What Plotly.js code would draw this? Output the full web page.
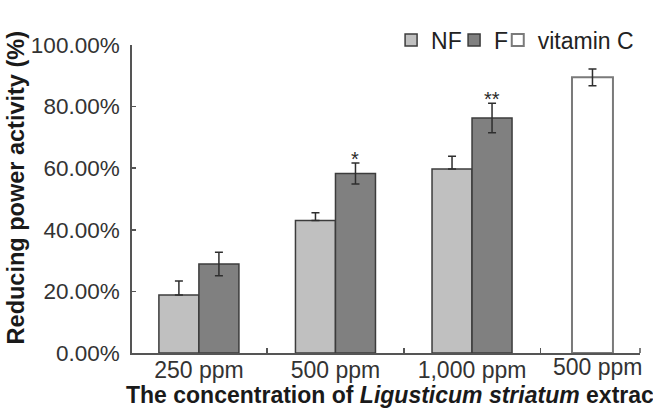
<!DOCTYPE html>
<html>
<head>
<meta charset="utf-8">
<script src="https://cdn.plot.ly/plotly-3.0.1.min.js"></script>
<style>
html,body{margin:0;padding:0;background:#fff;}
#chart{width:653px;height:409px;}
</style>
</head>
<body>
<div id="chart"></div>
<script>
// ---- data ----
var categoryKeys = ['250 ppm', '500 ppm', '1,000 ppm', '500 ppm vitamin C'];
var tickLabels   = ['250 ppm', '500 ppm', '1,000 ppm', ''];
var vitLabel     = '500 ppm';
var extractKeys  = ['250 ppm', '500 ppm', '1,000 ppm'];
var nfValues  = [0.188, 0.430, 0.597];
var nfErrors  = [0.046, 0.025, 0.042];
var fValues   = [0.289, 0.583, 0.763];
var fErrors   = [0.038, 0.034, 0.048];
var fStars    = ['', '*', '**'];
var vitKeys   = ['500 ppm vitamin C'];
var vitValues = [0.895];
var vitErrors = [0.027];
var seriesNames = ['NF', 'F', 'vitamin C'];
var yTickVals = [0, 0.2, 0.4, 0.6, 0.8, 1.0];

var FONT = '"Liberation Sans", Arial, Helvetica, sans-serif';
var BW = 0.293;
var LEGFONT = {family: FONT, size: 23, color: '#222222'};

var traces = [
  {
    type: 'bar', name: seriesNames[0], x: extractKeys, y: nfValues, legend: 'legend',
    width: BW, offset: -BW,
    marker: {color: '#c0c0c0', line: {color: '#3c3c3c', width: 1.5}},
    error_y: {type: 'data', symmetric: false, array: nfErrors, arrayminus: nfErrors.map(function(){return 0;}),
              color: '#2e2e2e', thickness: 1.5, width: 4}
  },
  {
    type: 'bar', name: seriesNames[1], x: extractKeys, y: fValues, legend: 'legend2',
    width: BW, offset: 0,
    marker: {color: '#808080', line: {color: '#3c3c3c', width: 1.5}},
    error_y: {type: 'data', array: fErrors, color: '#2e2e2e', thickness: 1.5, width: 4}
  },
  {
    type: 'bar', name: seriesNames[2], x: vitKeys, y: vitValues, legend: 'legend3',
    width: 0.30, offset: -0.268,
    marker: {color: '#ffffff', line: {color: '#7a7a7a', width: 2}},
    error_y: {type: 'data', array: vitErrors, color: '#2e2e2e', thickness: 1.5, width: 4}
  }
];

var annotations = [];
extractKeys.forEach(function(k, i){
  if (fStars[i]) {
    annotations.push({
      x: k, y: fValues[i] + fErrors[i], xref: 'x', yref: 'y',
      text: fStars[i], showarrow: false, xshift: BW * 136.5 / 2,
      yanchor: 'bottom', yshift: -9,
      font: {family: FONT, size: 20, color: '#2a2a2a'}
    });
  }
});
// tick label of the vitamin C category (sits a little left of / above the others)
annotations.push({
  x: vitKeys[0], y: 0, xref: 'x', yref: 'paper',
  text: vitLabel, showarrow: false, xanchor: 'center', yanchor: 'top',
  xshift: -11, yshift: 1,
  font: {family: FONT, size: 23, color: '#333333'}
});
annotations.push({
  xref: 'paper', yref: 'paper', x: -0.228, y: 0.535,
  text: '<b>Reducing power activity (%)</b>', textangle: -90, showarrow: false,
  xanchor: 'center', yanchor: 'middle',
  font: {family: FONT, size: 23.5, color: '#1a1a1a'}
});
annotations.push({
  xref: 'paper', yref: 'paper', x: -0.015, y: -0.136,
  text: '<b>The concentration of <i>Ligusticum striatum</i> extract</b>', showarrow: false,
  xanchor: 'left', yanchor: 'middle',
  font: {family: FONT, size: 23, color: '#1a1a1a'}
});

function leg(x) {
  return {orientation: 'h', x: x, y: 1.016, xanchor: 'left', yanchor: 'middle',
          font: LEGFONT, bgcolor: 'rgba(0,0,0,0)', borderwidth: 0};
}

var layout = {
  width: 653, height: 409,
  margin: {l: 132, r: 13, t: 45, b: 56},
  paper_bgcolor: '#ffffff', plot_bgcolor: '#ffffff',
  font: {family: FONT, color: '#333333'},
  barmode: 'overlay',
  showlegend: true,
  legend: leg(0.510),
  legend2: leg(0.634),
  legend3: leg(0.720),
  xaxis: {
    type: 'category', categoryorder: 'array', categoryarray: categoryKeys,
    tickmode: 'array', tickvals: categoryKeys, ticktext: tickLabels,
    range: [-0.49, 3.23], tickson: 'boundaries', automargin: false,
    ticks: 'inside', ticklen: 5, tickwidth: 1.5, tickcolor: '#555555',
    showline: true, linecolor: '#555555', linewidth: 1.8,
    showgrid: false, zeroline: false, ticklabelstandoff: -4,
    tickfont: {family: FONT, size: 23, color: '#333333'}
  },
  yaxis: {
    range: [0, 1.0], tickmode: 'array', tickvals: yTickVals, tickformat: '.2%',
    ticks: 'inside', ticklen: 4, tickwidth: 1.5, tickcolor: '#555555', automargin: false,
    showline: true, linecolor: '#555555', linewidth: 1.8,
    showgrid: false, zeroline: false, ticklabelstandoff: 6,
    tickfont: {family: FONT, size: 22.5, color: '#333333'}
  },
  annotations: annotations,
  shapes: [{
    type: 'line', xref: 'paper', yref: 'y', x0: 1, x1: 1,
    ysizemode: 'pixel', yanchor: 0, y0: 0, y1: 5,
    line: {color: '#555555', width: 1.5}
  }]
};

Plotly.newPlot('chart', traces, layout, {displayModeBar: false, staticPlot: true});
</script>
</body>
</html>
